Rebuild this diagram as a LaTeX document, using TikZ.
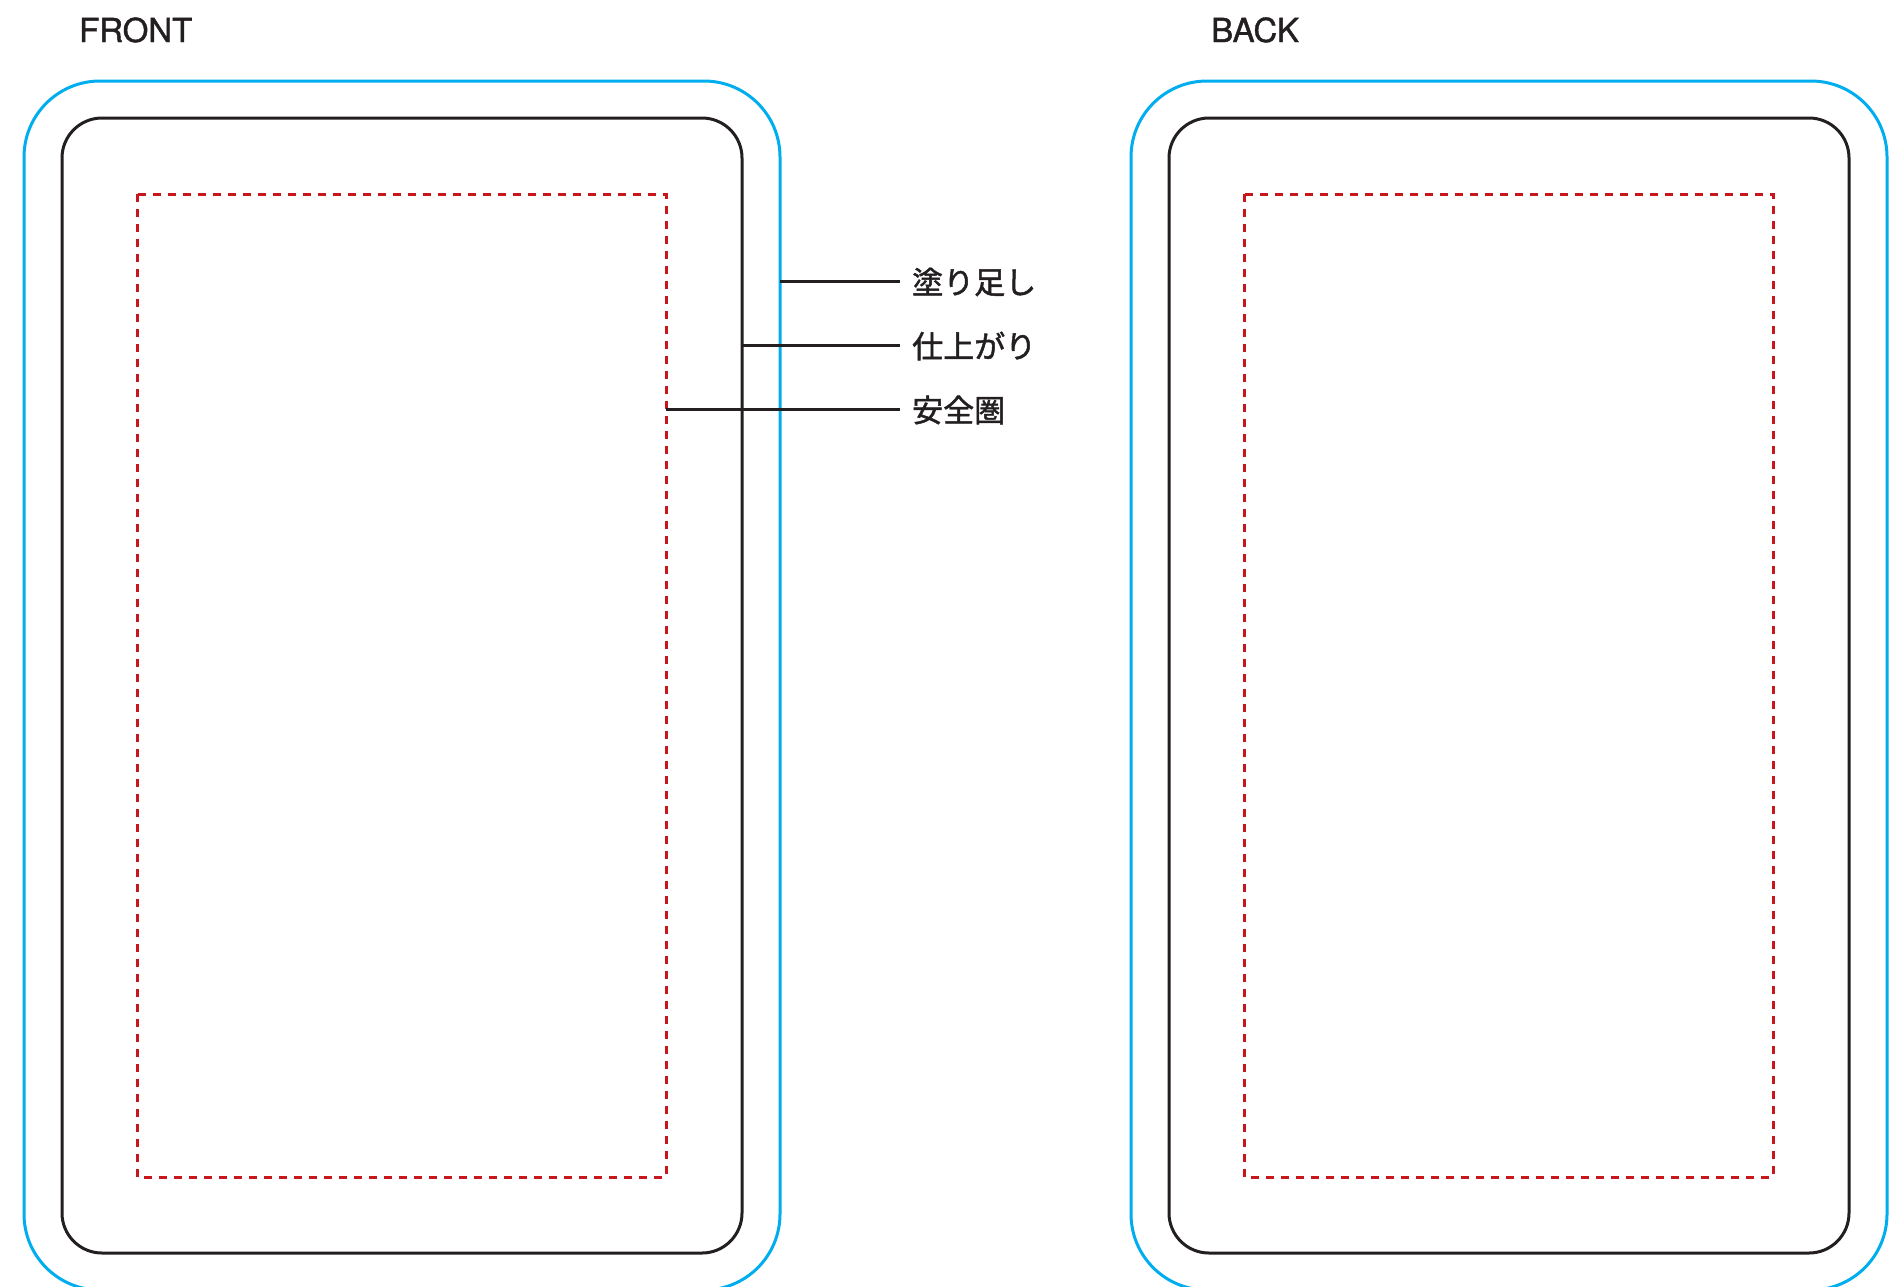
\documentclass[tikz,border=0pt]{standalone}
\usepackage{fontspec}
\setmainfont[FakeBold=1.2]{TeX Gyre Heros}
\newfontfamily\jpfont[FakeBold=1.5]{Noto Sans CJK JP}
\usepackage{tikz}
\definecolor{bleedblue}{HTML}{00AEEF}
\definecolor{trimblack}{HTML}{231F20}
\definecolor{safered}{HTML}{C8161D}
\tikzset{bleed/.style={draw=bleedblue, line width=3pt, rounded corners=76pt}}
\tikzset{trim/.style={draw=trimblack, line width=3pt, rounded corners=40pt}}
\tikzset{safe/.style={draw=safered, line width=3pt, dash pattern=on 8pt off 7pt}}
\tikzset{title/.style={anchor=base west, inner sep=0pt, text=trimblack, font=\fontsize{33}{36}\selectfont}}
\tikzset{lbl/.style={anchor=west, inner xsep=12pt, inner ysep=0pt, text=trimblack, font=\jpfont\fontsize{31}{33}\selectfont}}
\tikzset{leader/.style={draw=trimblack, line width=3pt}}

\begin{document}
\begin{tikzpicture}[x=1pt, y=-1pt]
    \useasboundingbox (0,0) rectangle (1902,1286);
    \node[title] (title-front) at (79,42) {FRONT};
    \node[title] (title-back) at (1211,42) {BACK};
    \foreach \dx in {0, 1107} {
        \begin{scope}[xshift=\dx pt]
            \draw[bleed] (24,81) rectangle (780,1290);
            \draw[trim] (62,118) rectangle (742,1253);
            \draw[safe] (137,194) rectangle (666,1177);
        \end{scope}
    }
    \coordinate (edge-bleed) at (780,281);
    \coordinate (edge-trim) at (742,345);
    \coordinate (edge-safe) at (666,409);
    \node[lbl] (lbl-bleed) at (900,282) {塗り足し};
    \node[lbl] (lbl-trim) at (900,346) {仕上がり};
    \node[lbl] (lbl-safe) at (900,410) {安全圏};
    \draw[leader] (edge-bleed) -- (edge-bleed -| lbl-bleed.west);
    \draw[leader] (edge-trim) -- (edge-trim -| lbl-trim.west);
    \draw[leader] (edge-safe) -- (edge-safe -| lbl-safe.west);
\end{tikzpicture}
\end{document}
